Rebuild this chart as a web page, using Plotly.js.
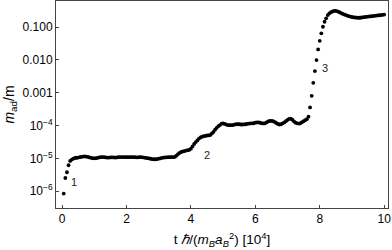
<!DOCTYPE html>
<html>
<head>
<meta charset="utf-8">
<script src="https://cdn.plot.ly/plotly-3.0.1.min.js"></script>
<style>html,body{margin:0;padding:0;background:#fff;}#chart{width:392px;height:250px;}</style>
</head>
<body>
<div id="chart"></div>
<script>
// time in units of 10^4 hbar/(m_B a_B^2)
const tValues = [
0.05,0.10,0.15,0.20,0.25,0.30,0.35,0.40,0.45,0.50,
0.55,0.60,0.65,0.70,0.75,0.80,0.85,0.90,0.95,1.00,
1.05,1.10,1.15,1.20,1.25,1.30,1.35,1.40,1.45,1.50,
1.55,1.60,1.65,1.70,1.75,1.80,1.85,1.90,1.95,2.00,
2.05,2.10,2.15,2.20,2.25,2.30,2.35,2.40,2.45,2.50,
2.55,2.60,2.65,2.70,2.75,2.80,2.85,2.90,2.95,3.00,
3.05,3.10,3.15,3.20,3.25,3.30,3.35,3.40,3.45,3.50,
3.55,3.60,3.65,3.70,3.75,3.80,3.85,3.90,3.95,4.00,
4.05,4.10,4.15,4.20,4.25,4.30,4.35,4.40,4.45,4.50,
4.55,4.60,4.65,4.70,4.75,4.80,4.85,4.90,4.95,5.00,
5.05,5.10,5.15,5.20,5.25,5.30,5.35,5.40,5.45,5.50,
5.55,5.60,5.65,5.70,5.75,5.80,5.85,5.90,5.95,6.00,
6.05,6.10,6.15,6.20,6.25,6.30,6.35,6.40,6.45,6.50,
6.55,6.60,6.65,6.70,6.75,6.80,6.85,6.90,6.95,7.00,
7.05,7.10,7.15,7.20,7.25,7.30,7.35,7.40,7.45,7.50,
7.55,7.60,7.65,7.70,7.75,7.80,7.85,7.90,7.95,8.00,
8.05,8.10,8.15,8.20,8.25,8.30,8.35,8.40,8.45,8.50,
8.55,8.60,8.65,8.70,8.75,8.80,8.85,8.90,8.95,9.00,
9.05,9.10,9.15,9.20,9.25,9.30,9.35,9.40,9.45,9.50,
9.55,9.60,9.65,9.70,9.75,9.80,9.85,9.90,9.95,10.00
];
// m_ad/m
const madValues = [
8.5e-7,2.54e-6,3.79e-6,6.21e-6,8.39e-6,9.25e-6,9.93e-6,1.03e-5,1.05e-5,1.06e-5,
1.09e-5,1.12e-5,1.14e-5,1.15e-5,1.14e-5,1.11e-5,1.07e-5,1.04e-5,1.02e-5,1.01e-5,
1.02e-5,1.04e-5,1.07e-5,1.10e-5,1.10e-5,1.09e-5,1.07e-5,1.06e-5,1.06e-5,1.07e-5,
1.08e-5,1.07e-5,1.06e-5,1.07e-5,1.09e-5,1.10e-5,1.10e-5,1.10e-5,1.10e-5,1.09e-5,
1.09e-5,1.10e-5,1.10e-5,1.10e-5,1.09e-5,1.08e-5,1.08e-5,1.09e-5,1.09e-5,1.08e-5,
1.06e-5,1.04e-5,1.02e-5,1.00e-5,9.79e-6,9.59e-6,9.46e-6,9.46e-6,9.59e-6,9.86e-6,
1.01e-5,1.04e-5,1.06e-5,1.07e-5,1.08e-5,1.09e-5,1.09e-5,1.10e-5,1.10e-5,1.11e-5,
1.21e-5,1.36e-5,1.48e-5,1.57e-5,1.63e-5,1.68e-5,1.73e-5,1.78e-5,1.83e-5,1.98e-5,
2.32e-5,2.77e-5,3.14e-5,3.54e-5,4.02e-5,4.37e-5,4.59e-5,4.75e-5,4.89e-5,4.99e-5,
5.06e-5,5.17e-5,5.74e-5,6.43e-5,7.50e-5,8.57e-5,9.59e-5,1.04e-4,1.14e-4,1.16e-4,
1.12e-4,1.07e-4,1.04e-4,1.03e-4,1.03e-4,1.04e-4,1.07e-4,1.10e-4,1.10e-4,1.10e-4,
1.08e-4,1.08e-4,1.09e-4,1.10e-4,1.13e-4,1.15e-4,1.16e-4,1.17e-4,1.18e-4,1.23e-4,
1.25e-4,1.25e-4,1.22e-4,1.17e-4,1.16e-4,1.18e-4,1.25e-4,1.34e-4,1.39e-4,1.40e-4,
1.36e-4,1.29e-4,1.20e-4,1.12e-4,1.08e-4,1.10e-4,1.17e-4,1.25e-4,1.36e-4,1.50e-4,
1.60e-4,1.62e-4,1.51e-4,1.34e-4,1.23e-4,1.17e-4,1.15e-4,1.18e-4,1.27e-4,1.36e-4,
1.46e-4,1.57e-4,1.87e-4,3.57e-4,8.04e-4,2.00e-3,4.56e-3,9.87e-3,0.0209,0.0382,
0.0643,0.102,0.145,0.184,0.232,0.262,0.283,0.299,0.310,0.312,
0.301,0.287,0.271,0.256,0.244,0.234,0.224,0.215,0.208,0.202,
0.198,0.195,0.193,0.192,0.192,0.195,0.198,0.202,0.205,0.208,
0.210,0.213,0.216,0.219,0.223,0.226,0.229,0.232,0.235,0.239
];
const xTickVals = [0, 2, 4, 6, 8, 10];
const xTickText = ["0", "2", "4", "6", "8", "10"];
const yTickVals = [1e-6, 1e-5, 1e-4, 1e-3, 1e-2, 1e-1];
const yTickText = ["10<sup>−6</sup>", "10<sup>−5</sup>", "10<sup>−4</sup>", "0.001", "0.010", "0.100"];
const stageLabels = ["1", "2", "3"];
const stageX = [0.37, 4.50, 8.15];
const stageY = [1.92e-6, 1.25e-5, 5.5e-3];

const font = "Liberation Sans, Arial, sans-serif";
const trace = {
  x: tValues, y: madValues, type: "scatter", mode: "markers",
  marker: {color: "#000", size: 3.8, line: {width: 0}},
  hoverinfo: "skip"
};
const annotations = stageLabels.map((s, i) => ({
  x: stageX[i], y: Math.log10(stageY[i]), xref: "x", yref: "y",
  text: s, showarrow: false, font: {family: font, size: 11, color: "#222"}
}));
const layout = {
  width: 392, height: 250, autosize: false,
  margin: {l: 56, r: 4, t: 1, b: 42, pad: 0},
  paper_bgcolor: "#fff", plot_bgcolor: "#fff",
  showlegend: false,
  font: {family: font, size: 12, color: "#000"},
  xaxis: {
    range: [-0.19, 10.12], tickvals: xTickVals, ticktext: xTickText,
    ticks: "inside", ticklen: 3, tickcolor: "#444", tickwidth: 1,
    showline: true, linecolor: "#444", linewidth: 1, mirror: true,
    showgrid: false, zeroline: false,
    tickfont: {family: font, size: 12, color: "#000"},
    title: {text: "t <i>ℏ</i>/(<i>m<sub>B</sub>a<sub>B</sub></i><sup>2</sup>) [10<sup>4</sup>]",
            font: {family: font, size: 13.5, color: "#000"}, standoff: 9}
  },
  yaxis: {
    type: "log", range: [-6.509, -0.207], tickvals: yTickVals, ticktext: yTickText,
    ticks: "inside", ticklen: 3, tickcolor: "#444", tickwidth: 1,
    showline: true, linecolor: "#444", linewidth: 1, mirror: true,
    showgrid: false, zeroline: false,
    tickfont: {family: font, size: 12, color: "#000"},
    title: {text: "<i>m</i><sub>ad</sub>/m", font: {family: font, size: 14, color: "#000"}, standoff: 4}
  },
  annotations: annotations
};
Plotly.newPlot("chart", [trace], layout, {displayModeBar: false, staticPlot: true});
</script>
</body>
</html>
